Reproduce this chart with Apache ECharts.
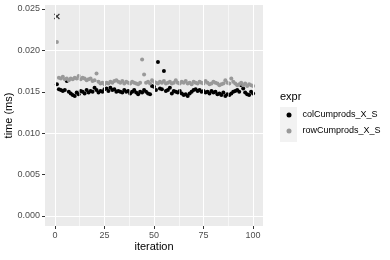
<!DOCTYPE html>
<html><head><meta charset="utf-8">
<script src="https://cdn.jsdelivr.net/npm/echarts@6/dist/echarts.min.js"></script>
<style>html,body{margin:0;padding:0;background:#fff}#c{width:390px;height:260px}</style>
</head><body><div id="c"></div>
<script>
const iterations = [1,2,3,4,5,6,7,8,9,10,11,12,13,14,15,16,17,18,19,20,21,22,23,24,25,26,27,28,29,30,31,32,33,34,35,36,37,38,39,40,41,42,43,44,45,46,47,48,49,50,51,52,53,54,55,56,57,58,59,60,61,62,63,64,65,66,67,68,69,70,71,72,73,74,75,76,77,78,79,80,81,82,83,84,85,86,87,88,89,90,91,92,93,94,95,96,97,98,99,100];
const colCumprods = [
0.0159,0.0153,0.0152,0.0151,0.0152,0.0163,0.0150,0.0148,0.0146,0.0145,
0.0149,0.0147,0.0151,0.0150,0.0148,0.0152,0.0149,0.0151,0.0150,0.0155,
0.0152,0.0149,0.0151,0.0150,0.0153,0.0154,0.0151,0.0155,0.0152,0.0153,
0.0150,0.0151,0.0150,0.0149,0.0152,0.0150,0.0151,0.0148,0.0150,0.0152,
0.0149,0.0147,0.0150,0.0149,0.0152,0.0150,0.0148,0.0147,0.0157,0.0156,
0.0152,0.0186,0.0154,0.0153,0.0175,0.0151,0.0152,0.0155,0.0148,0.0151,
0.0150,0.0149,0.0151,0.0148,0.0146,0.0147,0.0145,0.0148,0.0150,0.0152,
0.0153,0.0151,0.0152,0.0150,0.0151,0.0149,0.0150,0.0148,0.0151,0.0149,
0.0150,0.0147,0.0148,0.0146,0.0149,0.0145,0.0147,0.0146,0.0148,0.0150,
0.0151,0.0152,0.0150,0.0158,0.0154,0.0149,0.0147,0.0146,0.0150,0.0148];
const rowCumprods = [
0.0210,0.0167,0.0166,0.0168,0.0165,0.0166,0.0164,0.0166,0.0165,0.0167,
0.0166,0.0169,0.0165,0.0167,0.0166,0.0164,0.0165,0.0166,0.0163,0.0164,
0.0172,0.0162,0.0160,0.0161,0.0159,0.0161,0.0160,0.0162,0.0161,0.0163,
0.0164,0.0162,0.0161,0.0163,0.0160,0.0162,0.0161,0.0160,0.0162,0.0161,
0.0160,0.0159,0.0161,0.0189,0.0171,0.0161,0.0162,0.0160,0.0164,0.0162,
0.0161,0.0160,0.0162,0.0161,0.0163,0.0160,0.0161,0.0162,0.0160,0.0161,
0.0164,0.0161,0.0160,0.0162,0.0161,0.0163,0.0160,0.0161,0.0159,0.0162,
0.0161,0.0160,0.0162,0.0161,0.0160,0.0163,0.0161,0.0159,0.0160,0.0162,
0.0161,0.0160,0.0158,0.0159,0.0160,0.0164,0.0161,0.0160,0.0166,0.0162,
0.0160,0.0158,0.0159,0.0161,0.0158,0.0160,0.0157,0.0159,0.0158,0.0157];
const outlierPoint = [[1, 0.0241]];
const seriesNames = ['colCumprods_X_S', 'rowCumprods_X_S'];
const xTicks = [0, 25, 50, 75, 100];
const xMinor = [12.5, 37.5, 62.5, 87.5];
const yTicks = [0, 0.005, 0.010, 0.015, 0.020, 0.025];
const yMinor = [0.0025, 0.0075, 0.0125, 0.0175, 0.0225];

const FONT = 'Liberation Sans, Arial, sans-serif';
const pair = (xs, ys) => xs.map((x, i) => [x, ys[i]]);

const gridLines = [].concat(
  xMinor.map(v => ({ xAxis: v, lineStyle: { width: 0.55 } })),
  yMinor.map(v => ({ yAxis: v, lineStyle: { width: 0.55 } })),
  xTicks.map(v => ({ xAxis: v, lineStyle: { width: 1.1 } })),
  yTicks.map(v => ({ yAxis: v, lineStyle: { width: 1.1 } }))
);

const chart = echarts.init(document.getElementById('c'), null, { renderer: 'canvas' });
chart.setOption({
  animation: false,
  backgroundColor: '#ffffff',
  textStyle: { fontFamily: FONT },
  title: {
    text: 'expr', left: 280, top: 91, padding: 0,
    textStyle: { fontSize: 11, fontWeight: 'normal', color: '#000', fontFamily: FONT }
  },
  graphic: [{
    type: 'rect', left: 280, top: 107, z: -1,
    shape: { width: 17, height: 35 }, style: { fill: '#f2f2f2' }
  }],
  legend: {
    data: seriesNames, orient: 'vertical', left: 286.5, top: 110.5,
    itemWidth: 5, itemHeight: 5, itemGap: 7, icon: 'circle', padding: 0,
    textStyle: { fontSize: 9, color: '#000', fontFamily: FONT, padding: [0, 0, 0, 6] }
  },
  grid: { left: 45, right: 127, top: 5, bottom: 34, show: true, backgroundColor: '#ebebeb', borderWidth: 0,
    containLabel: false, outerBoundsMode: 'none' },
  xAxis: {
    type: 'value', min: -5, max: 105,
    axisLine: { show: false, onZero: false },
    axisTick: { show: true, inside: false, customValues: xTicks, length: 3, lineStyle: { color: '#333', width: 1 } },
    axisLabel: { customValues: xTicks, color: '#4d4d4d', fontSize: 9, margin: 5, fontFamily: FONT },
    splitLine: { show: false },
    name: 'iteration', nameLocation: 'middle', nameGap: 15, nameMoveOverlap: false,
    nameTextStyle: { color: '#000', fontSize: 11, fontFamily: FONT }
  },
  yAxis: {
    type: 'value', min: -0.001213, max: 0.02548,
    axisLine: { show: false, onZero: false },
    axisTick: { show: true, inside: false, customValues: yTicks, length: 3, lineStyle: { color: '#333', width: 1 } },
    axisLabel: { customValues: yTicks, color: '#4d4d4d', fontSize: 9, margin: 5, fontFamily: FONT,
      formatter: v => v.toFixed(3) },
    splitLine: { show: false },
    name: 'time (ms)', nameLocation: 'middle', nameGap: 31, nameMoveOverlap: false,
    nameTextStyle: { color: '#000', fontSize: 11, fontFamily: FONT }
  },
  series: [
    {
      type: 'scatter', name: '_grid', data: [], z: 0, silent: true,
      markLine: { silent: true, symbol: ['none', 'none'], label: { show: false },
        lineStyle: { color: '#ffffff', type: 'solid' }, emphasis: { disabled: true }, data: gridLines }
    },
    {
      type: 'scatter', name: seriesNames[0], data: pair(iterations, colCumprods), z: 2,
      symbol: 'circle', symbolSize: 4, itemStyle: { color: '#000000', opacity: 1 }
    },
    {
      type: 'scatter', name: seriesNames[1], data: pair(iterations, rowCumprods), z: 2,
      symbol: 'circle', symbolSize: 4, itemStyle: { color: '#999999', opacity: 1 }
    },
    {
      type: 'scatter', name: '_outlier', data: outlierPoint, z: 3,
      symbol: 'path://M0,1.5L1.5,0L5,3.5L8.5,0L10,1.5L6.5,5L10,8.5L8.5,10L5,6.5L1.5,10L0,8.5L3.5,5Z',
      symbolSize: 6, itemStyle: { color: '#333333', opacity: 1 }
    }
  ]
});
</script></body></html>
